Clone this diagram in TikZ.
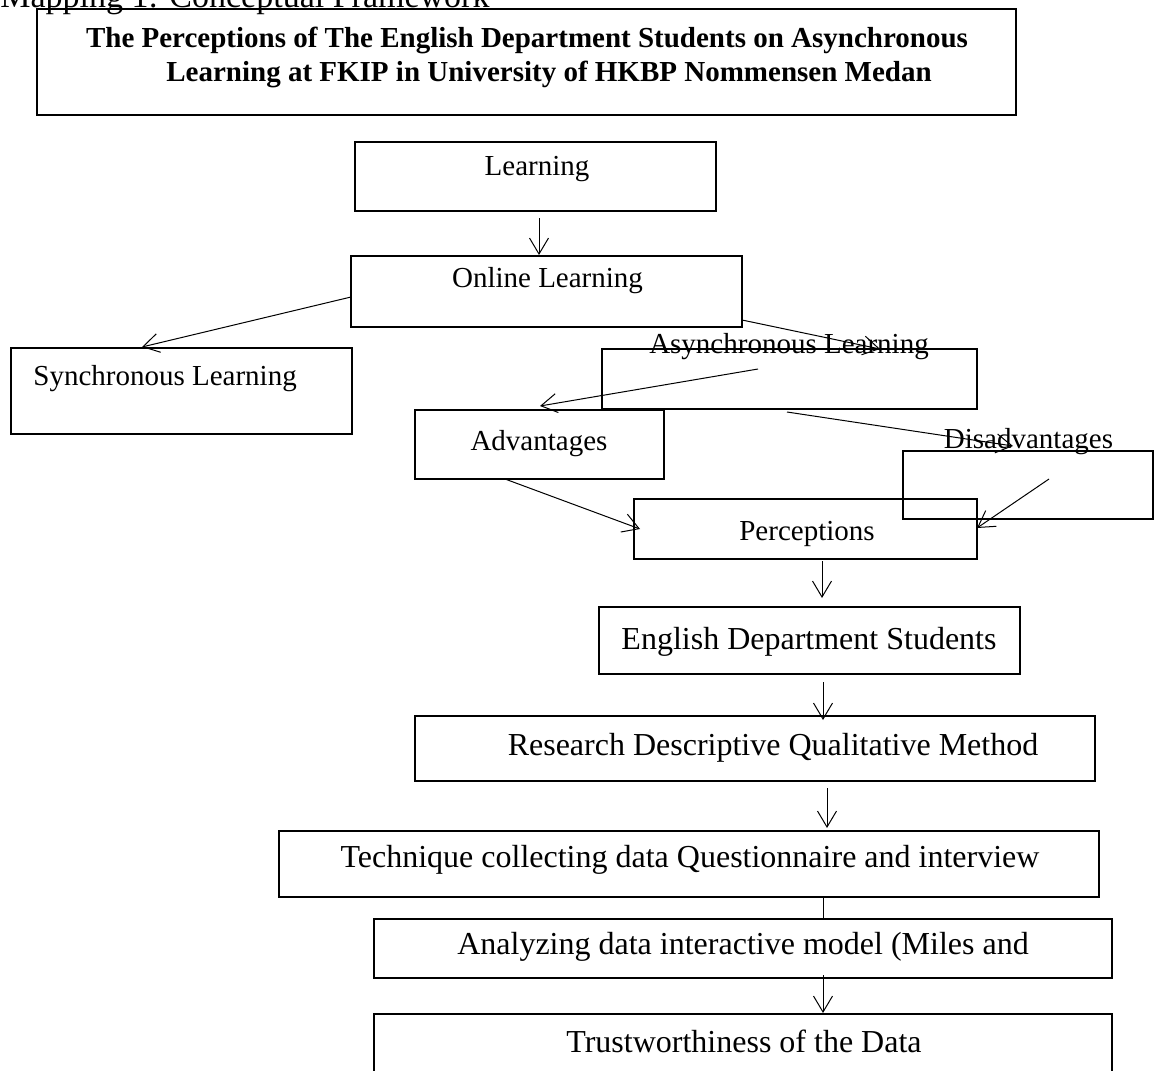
\documentclass[tikz,border=0pt]{standalone}
\usepackage{fontspec}
\setmainfont{Liberation Serif}
\usetikzlibrary{arrows.meta,calc}

\begin{document}
\begin{tikzpicture}[x=0.5pt, y=-0.5pt, >={Straight Barb[length=8pt,width=9.5pt]},
    box/.style={draw, line width=0.85pt, inner sep=0pt, outer sep=0pt},
    thinbox/.style={box, line width=0.55pt},
    lbl/.style={inner sep=0pt, anchor=base, font=\fontsize{14.5}{17}\selectfont},
    biglbl/.style={lbl, font=\fontsize{16}{19}\selectfont},
    link/.style={->, line width=0.5pt}]
  \useasboundingbox (0,0) rectangle (1155,1070);

  % boxes
  \node[box, line width=1pt, minimum width=489.5pt, minimum height=53pt] (title) at (526.5,62) {};
  \node[box, minimum width=180.5pt, minimum height=34.5pt] (learning) at (535.5,176.5) {};
  \node[box, minimum width=195.5pt, minimum height=35.5pt] (online) at (546.5,291.5) {};
  \node[box, minimum width=170.5pt, minimum height=43pt] (sync) at (181.5,391) {};
  \node[box, minimum width=187.5pt, minimum height=30pt] (async) at (789.5,379) {};
  \node[thinbox, minimum width=124.5pt, minimum height=34.5pt] (adv) at (539.5,444.5) {};
  \node[thinbox, minimum width=125pt, minimum height=34pt] (disadv) at (1028,485) {};
  \node[box, minimum width=171.5pt, minimum height=30pt] (percep) at (805.5,529) {};
  \node[box, minimum width=210.5pt, minimum height=33.5pt] (english) at (809.5,640.5) {};
  \node[box, minimum width=340pt, minimum height=32.5pt] (research) at (755,748.5) {};
  \node[thinbox, minimum width=410pt, minimum height=33pt] (technique) at (689,864) {};
  \node[thinbox, minimum width=369pt, minimum height=29.5pt] (analyzing) at (743,948.5) {};
  \node[thinbox, minimum width=369pt, minimum height=50pt] (trust) at (743,1064) {};

  % texts
  \node[lbl, anchor=base west, font=\fontsize{17}{20}\selectfont] (mapping) at (0,8) {Mapping 1: Conceptual Framework};
  \node[lbl, font=\fontsize{14.5}{17}\selectfont\bfseries] (titleA) at (527,48) {The Perceptions of The English Department Students on Asynchronous};
  \node[lbl, font=\fontsize{14.5}{17}\selectfont\bfseries] (titleB) at (549,82) {Learning at FKIP in University of HKBP Nommensen Medan};
  \node[lbl] (learningText) at (537,175) {Learning};
  \node[lbl] (onlineText) at (547.5,287) {Online Learning};
  \node[lbl, anchor=base west] (syncText) at (33,385) {Synchronous Learning};
  \node[lbl] (asyncText) at (789,353) {Asynchronous Learning};
  \node[lbl] (advText) at (539,450) {Advantages};
  \node[lbl] (disadvText) at (1028.5,448) {Disadvantages};
  \node[lbl] (percepText) at (807,540) {Perceptions};
  \node[biglbl] (englishText) at (809,649) {English Department Students};
  \node[biglbl] (researchText) at (773,755) {Research Descriptive Qualitative Method};
  \node[biglbl] (techniqueText) at (690,867) {Technique collecting data Questionnaire and interview};
  \node[biglbl] (analyzingText) at (743,954) {Analyzing data interactive model (Miles and};
  \node[biglbl] (trustText) at (744,1052) {Trustworthiness of the Data};

  % connectors
  \draw[link] ($(learning.south)+(3.5,7)$) -- ($(online.north)+(-7.5,-1)$);
  \draw[link] ($(online.west)+(0,5.5)$) -- ($(sync.north)+(-39.5,-1)$);
  \draw[link] ($(online.south east)+(0,-7)$) -- ($(async.north)+(90.5,0)$);
  \draw[link] ($(async.center)+(-31.5,-10)$) -- ($(adv.north)+(0.5,-4)$);
  \draw[link] ($(async.south)+(-2.5,3)$) -- ($(disadv.north)+(-15,-5)$);
  \draw[link] ($(adv.south)+(-34.5,0)$) -- ($(percep.west)+(6,0)$);
  \draw[link] ($(disadv.center)+(21,-6)$) -- ($(percep.east)+(0,-1)$);
  \draw[link] ($(percep.south)+(16.5,2)$) -- ($(english.north)+(12.5,-9)$);
  \draw[link] ($(english.south)+(13.5,8)$) -- ($(research.north)+(68,4)$);
  \draw[link] ($(research.south)+(72,7)$) -- ($(technique.north)+(138,-3)$);
  \draw[line width=0.5pt] ($(technique.south)+(134,0)$) -- ($(analyzing.north)+(80,0)$);
  \draw[link] ($(analyzing.south)+(80,-3)$) -- ($(trust.north)+(80,-1)$);
\end{tikzpicture}
\end{document}
